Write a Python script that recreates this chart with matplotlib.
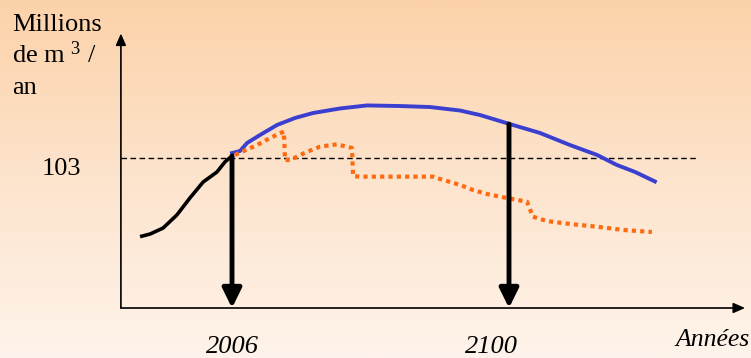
import numpy as np
import matplotlib
matplotlib.use('Agg')
import matplotlib.pyplot as plt
from matplotlib.colors import LinearSegmentedColormap

plt.rcParams['font.family'] = ['Liberation Serif', 'DejaVu Serif']

# consommation historique (noir)
hist_years = [1974.8, 1978.2, 1982.6, 1987.3, 1991.7, 1996.2, 2000.9, 2003.6, 2006.0]
hist_vals = [49.0, 50.8, 54.9, 63.9, 75.5, 86.5, 93.4, 100.3, 104.4]

# scénario bleu
blue_years = [2006.0, 2008.7, 2011.1, 2015.5, 2021.3, 2027.4, 2033.5, 2042.6, 2051.8,
              2063.0, 2073.2, 2083.4, 2090.2, 2100.3, 2110.5, 2120.7, 2129.9, 2136.6,
              2142.8, 2149.5]
blue_vals = [106.4, 107.8, 113.3, 118.8, 125.7, 130.5, 133.9, 137.0, 139.1,
             138.7, 138.0, 135.6, 132.5, 126.3, 120.2, 111.9, 105.1, 98.2,
             93.4, 86.9]

# scénario orange (pointillé)
orange_years = [2007.0, 2014.5, 2018.9, 2023.6, 2024.0, 2025.7, 2031.5, 2035.9, 2041.6,
                2046.7, 2047.1, 2049.4, 2074.2, 2076.6, 2083.4, 2087.8, 2092.5, 2099.3,
                2106.1, 2108.1, 2112.9, 2120.7, 2129.9, 2138.7, 2148.5]
orange_vals = [105.1, 111.9, 116.7, 121.2, 101.6, 101.6, 107.3, 110.8, 112.4,
               109.9, 90.6, 90.2, 90.2, 88.6, 84.5, 81.0, 78.3, 75.5,
               73.0, 62.7, 59.7, 57.7, 55.8, 53.6, 52.2]

ref_value = 103
marked_years = [2006, 2100]
marked_vals = [104.4, 126.3]
ylabel_lines = ['Millions', 'de m $\\mathregular{^3}$ /', 'an']

fig = plt.figure(figsize=(7.51, 3.58), dpi=100)

# fond dégradé
bg = fig.add_axes([0, 0, 1, 1], zorder=0)
grad = LinearSegmentedColormap.from_list('g', ['#fcd2a9', '#fde4cd', '#fff4eb'])
bg.imshow(np.linspace(0, 1, 256).reshape(-1, 1), aspect='auto', cmap=grad,
          extent=[0, 1, 0, 1])
bg.axis('off')

ax = fig.add_axes([0, 0, 1, 1], zorder=1)
ax.patch.set_alpha(0)
ax.set_xlim(1927.27, 2182.12)
ax.set_ylim(-34.33, 211.5)
ax.axis('off')

x0 = 1968.3
# axes avec flèches
ax.annotate('', xy=(x0, 188.5), xytext=(x0, 0),
            arrowprops=dict(arrowstyle='-|>,head_length=0.5,head_width=0.22',
                            lw=1.2, color='black', shrinkA=0, shrinkB=0, mutation_scale=14))
ax.annotate('', xy=(2180.1, 0), xytext=(x0, 0),
            arrowprops=dict(arrowstyle='-|>,head_length=0.5,head_width=0.22',
                            lw=1.2, color='black', shrinkA=0, shrinkB=0, mutation_scale=14))

# ligne de référence
ax.plot([x0, 2163.8], [ref_value, ref_value], color='black', lw=1.0,
        linestyle=(0, (4, 2.5)))

ax.plot(hist_years, hist_vals, color='black', lw=2.6, solid_capstyle='butt')
ax.plot(blue_years, blue_vals, color='#3a3fd0', lw=2.8)
ax.plot(orange_years, orange_vals, color='#ff6a10', lw=3.0, linestyle=(0, (1, 1)))

for yr, v in zip(marked_years, marked_vals):
    ax.annotate('', xy=(yr, 0), xytext=(yr, v),
                arrowprops=dict(arrowstyle='-|>,head_length=0.65,head_width=0.32',
                                lw=3.5, color='black', shrinkA=0, shrinkB=0,
                                mutation_scale=18))

# textes
for i, line in enumerate(ylabel_lines):
    ax.text(1931.4, (308 - (31 + 31.5 * i)) / 1.4563, line, fontsize=19,
            va='baseline', ha='left')
ax.text(1941.4, (308 - 175) / 1.4563, '103', fontsize=19, va='baseline', ha='left')
ax.text(2006, -26.5, '2006', fontsize=19, style='italic', ha='center', va='center')
ax.text(2093.9, -26.5, '2100', fontsize=19, style='italic', ha='center', va='center')
ax.text(2181.5, -22.0, 'Années', fontsize=18.5, style='italic', ha='right', va='center')

fig.savefig('out.png', dpi=100)
